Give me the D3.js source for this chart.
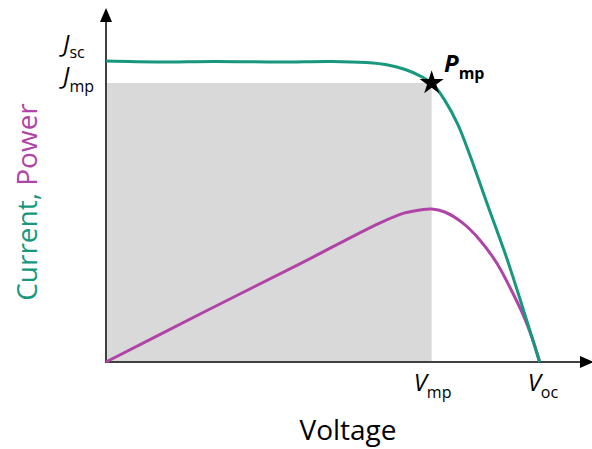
<!DOCTYPE html>
<html>
<head>
<meta charset="utf-8">
<script src="https://cdn.jsdelivr.net/npm/d3@7"></script>
<style>
  body { margin: 0; background: #fff; }
  svg { display: block; font-family: "Open Sans", sans-serif; }
</style>
</head>
<body>
<svg width="592" height="449"></svg>
<script>
// normalised voltage (Voc = 1) and current / power (Jsc = 1)
const voltage = [0, 0.12, 0.25, 0.40, 0.52, 0.60, 0.65, 0.69, 0.725, 0.753, 0.781, 0.811, 0.839, 0.880, 0.924, 0.959, 1.0];
const current = [1.003, 1.0, 1.002, 1.0, 1.002, 0.998, 0.99, 0.975, 0.953, 0.927, 0.873, 0.793, 0.69, 0.523, 0.347, 0.19, 0];

const powerV = [0, 0.217, 0.447, 0.631, 0.689, 0.724, 0.751, 0.781, 0.823, 0.862, 0.901, 0.931, 0.961, 0.982, 1.0];
const power = [0, 0.16, 0.327, 0.463, 0.497, 0.507, 0.51, 0.50, 0.463, 0.407, 0.33, 0.25, 0.16, 0.083, 0];

const Vmp = 0.751, Jmp = 0.93, Voc = 1;

const green = "#17977d", purple = "#b044a6";

let x = d3.scaleLinear().domain([0, 1.1]).range([106, 583]);
let y = d3.scaleLinear().domain([0, 1.18]).range([362, 8]);

let svg = d3.select("svg");

// shaded max power rectangle
svg.append("rect")
  .attr("x", x(0))
  .attr("y", y(Jmp))
  .attr("width", x(Vmp) - x(0))
  .attr("height", y(0) - y(Jmp))
  .style("fill", "#d9d9d9");

// axes
svg.append("line")
  .attr("x1", x(0)).attr("x2", x(0))
  .attr("y1", y(0) + 1).attr("y2", 18)
  .style("stroke", "#404040").style("stroke-width", 2);
svg.append("line")
  .attr("x1", x(0) - 1).attr("x2", 584)
  .attr("y1", y(0)).attr("y2", y(0))
  .style("stroke", "#404040").style("stroke-width", 2);
svg.append("path")
  .attr("d", "M" + x(0) + ",8 l-6,14 l12,0 z")
  .style("fill", "#000");
svg.append("path")
  .attr("d", "M594," + y(0) + " l-14,-6 l0,12 z")
  .style("fill", "#000");

// curves
let currentLine = d3.line()
  .x((d, i) => x(voltage[i]))
  .y(d => y(d))
  .curve(d3.curveCatmullRom);

let powerLine = d3.line()
  .x((d, i) => x(powerV[i]))
  .y(d => y(d))
  .curve(d3.curveCatmullRom);

svg.append("path")
  .attr("d", powerLine(power))
  .style("fill", "none")
  .style("stroke", purple)
  .style("stroke-width", 3);

svg.append("path")
  .attr("d", currentLine(current))
  .style("fill", "none")
  .style("stroke", green)
  .style("stroke-width", 3);

// max power point
svg.append("path")
  .attr("d", d3.symbol().type(d3.symbolStar).size(180)())
  .attr("transform", "translate(" + x(Vmp) + "," + y(Jmp) + ")")
  .style("fill", "#000");

// labels
function subLabel(px, py, main, sub, opts) {
  let t = svg.append("text")
    .attr("x", px).attr("y", py)
    .style("font-size", opts.size + "px")
    .style("fill", "#000");
  t.append("tspan")
    .text(main)
    .style("font-style", "italic")
    .style("font-weight", opts.bold ? "bold" : "normal");
  t.append("tspan")
    .text(sub)
    .attr("dy", opts.dy)
    .style("font-size", opts.subSize + "px")
    .style("font-weight", opts.bold ? "bold" : "normal");
  return t;
}

subLabel(63, 52, "J", "sc", { size: 24, subSize: 16, dy: 6 });
subLabel(63, 84, "J", "mp", { size: 24, subSize: 16, dy: 8 });
subLabel(444, 72, "P", "mp", { size: 24, subSize: 16, dy: 7, bold: true });
subLabel(x(Vmp) - 18, 391, "V", "mp", { size: 24, subSize: 16, dy: 7 });
subLabel(x(Voc) - 12, 391, "V", "oc", { size: 24, subSize: 16, dy: 7 });

svg.append("text")
  .attr("x", 348).attr("y", 440)
  .attr("text-anchor", "middle")
  .style("font-size", "28px")
  .style("fill", "#000")
  .text("Voltage");

let yl = svg.append("text")
  .attr("transform", "translate(37,202) rotate(-90)")
  .attr("text-anchor", "middle")
  .style("font-size", "28px");
yl.append("tspan").text("Current, ").style("fill", green);
yl.append("tspan").text("Power").style("fill", purple);
</script>
</body>
</html>
